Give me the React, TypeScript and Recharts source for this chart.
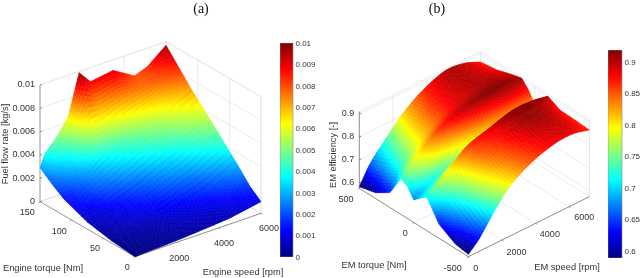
import React from "react";
import { ScatterChart, Scatter, XAxis, YAxis, BarChart, Bar, Cell } from "recharts";

// ---------- data ----------
// Panel (a): fuel flow rate in g/s (x 1e-3 kg/s) over engine speed / torque
const engineSpeeds = [0, 240, 870, 1350, 1860, 2400, 3480, 4500, 5100, 6000];
const engineTorques = [150, 131, 112, 75, 37, 18, 0];
const fuelT150 = [2.9, 4.0, 5.2, 6.5, 9.9, 8.8, 9.1, 8.0, 8.4, 9.7];
const fuelT131 = [2.1, 2.6, 3.7, 5.2, 6.5, 6.6, 7.3, 7.7, 8.0, 8.5];
const fuelT112 = [1.4, 1.6, 2.3, 2.9, 3.5, 4.1, 5.1, 6.0, 6.6, 7.3];
const fuelT75 = [0.6, 0.7, 1.0, 1.3, 1.6, 2.0, 2.9, 3.7, 4.4, 5.2];
const fuelT37 = [0.2, 0.25, 0.4, 0.5, 0.6, 0.8, 1.2, 1.7, 2.2, 3.0];
const fuelT18 = [0.1, 0.12, 0.18, 0.25, 0.32, 0.42, 0.7, 1.0, 1.3, 1.8];
const fuelT0 = [0, 0.02, 0.07, 0.1, 0.15, 0.2, 0.35, 0.5, 0.7, 1.0];

// Panel (b): EM efficiency over EM speed / torque
const emSpeeds = [0, 650, 1650, 2450, 3600, 5050, 6200, 7200];
const emTorques = [500, 350, 220, 120, 60, 0, -60, -120, -230, -380, -500];
const effT500 = [0.582, 0.661, 0.741, 0.8, 0.859, 0.902, 0.895, 0.865];
const effT350 = [0.6, 0.69, 0.77, 0.82, 0.87, 0.9, 0.895, 0.875];
const effT220 = [0.64, 0.72, 0.79, 0.83, 0.875, 0.9, 0.905, 0.895];
const effT120 = [0.73, 0.78, 0.83, 0.87, 0.9, 0.918, 0.918, 0.907];
const effT60 = [0.715, 0.76, 0.8, 0.82, 0.85, 0.875, 0.885, 0.875];
const effT0 = [0.673, 0.7, 0.73, 0.76, 0.79, 0.81, 0.82, 0.83];
const effTm60 = [0.7, 0.72, 0.76, 0.8, 0.83, 0.85, 0.85, 0.85];
const effTm120 = [0.72, 0.77, 0.82, 0.86, 0.885, 0.915, 0.915, 0.9];
const effTm230 = [0.637, 0.71, 0.79, 0.84, 0.87, 0.91, 0.905, 0.873];
const effTm380 = [0.595, 0.66, 0.76, 0.81, 0.855, 0.89, 0.895, 0.87];
const effTm500 = [0.585, 0.63, 0.726, 0.79, 0.844, 0.88, 0.885, 0.866];

const fuelTicks = [0, 2, 4, 6, 8, 10];
const effTicks = [0.6, 0.7, 0.8, 0.9];
const fuelBarTicks = [0, 0.001, 0.002, 0.003, 0.004, 0.005, 0.006, 0.007, 0.008, 0.009, 0.01];
const effBarTicks = [0.6, 0.65, 0.7, 0.75, 0.8, 0.85, 0.9];

// ---------- helpers ----------
const TICK_FONT = "'Liberation Sans', Arial, sans-serif";
const AXIS_COLOR = "#6a6a6a";
const GRID_COLOR = "#e2e2e2";
const clamp = (v: number) => Math.max(0, Math.min(1, v));
const jet = (t: number) => {
  const c = (o: number) => Math.round(255 * clamp(1.5 - Math.abs(4 * t - o)));
  return `rgb(${c(3)},${c(2)},${c(1)})`;
};

type Cfg = {
  ox: number; oy: number; ux: number; uy: number; vx: number; vy: number; zs: number; z0: number;
  sMax: number; tMin: number; tMax: number; cMin: number; cMax: number;
};
const proj = (c: Cfg, s: number, t: number, z: number) => {
  const u = s / c.sMax;
  const v = (t - c.tMin) / (c.tMax - c.tMin);
  return {
    x: (c.ox + c.ux * u + c.vx * v) / 3,
    y: (c.oy + c.uy * u + c.vy * v - (z - c.z0) * c.zs) / 3,
  };
};

// value of one table row at a fractional position inside cell k
function rowValue(row: number[], speeds: number[], k: number, f: number, smooth: boolean) {
  if (!smooth) return row[k] * (1 - f) + row[k + 1] * f;
  const last = speeds.length - 1;
  const slope = (i: number) => {
    const a = Math.max(0, i - 1);
    const b = Math.min(last, i + 1);
    return (row[b] - row[a]) / (speeds[b] - speeds[a]);
  };
  const h = speeds[k + 1] - speeds[k];
  const f2 = f * f;
  const f3 = f2 * f;
  return (
    (2 * f3 - 3 * f2 + 1) * row[k] +
    (f3 - 2 * f2 + f) * h * slope(k) +
    (-2 * f3 + 3 * f2) * row[k + 1] +
    (f3 - f2) * h * slope(k + 1)
  );
}

const SUB = 8;
function buildMesh(c: Cfg, speeds: number[], torques: number[], rows: number[][], smooth: boolean) {
  const pts: { x: number; y: number; z: number }[] = [];
  const nR = (torques.length - 1) * SUB + 1;
  const nC = (speeds.length - 1) * SUB + 1;
  for (let r = 0; r < nR; r++) {
    const r0 = Math.min(Math.floor(r / SUB), torques.length - 2);
    const rf = r / SUB - r0;
    const t = torques[r0] + (torques[r0 + 1] - torques[r0]) * rf;
    for (let k = 0; k < nC; k++) {
      const k0 = Math.min(Math.floor(k / SUB), speeds.length - 2);
      const kf = k / SUB - k0;
      const s = speeds[k0] + (speeds[k0 + 1] - speeds[k0]) * kf;
      const z =
        rowValue(rows[r0], speeds, k0, kf, smooth) * (1 - rf) +
        rowValue(rows[r0 + 1], speeds, k0, kf, smooth) * rf;
      const p = proj(c, s, t, z);
      pts.push({ x: p.x, y: p.y, z });
    }
  }
  return { pts, nR, nC };
}

const None = () => <g />;

const meshLine = (mesh: { pts: { z: number }[]; nR: number; nC: number }, c: Cfg) => (props: any) => {
  const p = props.points as { x: number; y: number }[];
  const out: React.ReactNode[] = [];
  for (let r = 0; r < mesh.nR - 1; r++) {
    for (let k = mesh.nC - 2; k >= 0; k--) {
      const a = r * mesh.nC + k;
      const b = a + 1;
      const d = a + mesh.nC;
      const e = d + 1;
      const z = (mesh.pts[a].z + mesh.pts[b].z + mesh.pts[d].z + mesh.pts[e].z) / 4;
      const col = jet((z - c.cMin) / (c.cMax - c.cMin));
      out.push(
        <polygon
          key={a}
          points={`${p[a].x},${p[a].y} ${p[b].x},${p[b].y} ${p[e].x},${p[e].y} ${p[d].x},${p[d].y}`}
          fill={col}
          stroke={col}
          strokeWidth={0.5}
        />
      );
    }
  }
  return <g>{out}</g>;
};

const pairLine = (color: string, width: number) => (props: any) => {
  const p = props.points as { x: number; y: number }[];
  const out: React.ReactNode[] = [];
  for (let i = 0; i + 1 < p.length; i += 2) {
    out.push(<line key={i} x1={p[i].x} y1={p[i].y} x2={p[i + 1].x} y2={p[i + 1].y} stroke={color} strokeWidth={width} />);
  }
  return <g>{out}</g>;
};

type Lbl = { x: number; y: number; label: string; anchor?: string; size?: number; rot?: boolean; font?: string };
const TextShape = (props: any) => {
  const { cx, cy, payload } = props;
  const l = payload as Lbl;
  return (
    <text
      x={cx}
      y={cy}
      textAnchor={(l.anchor as any) || "middle"}
      dominantBaseline="central"
      fontSize={l.size || 9}
      fontFamily={l.font || TICK_FONT}
      fill={l.font ? "#111" : "#333"}
      transform={l.rot ? `rotate(-90 ${cx} ${cy})` : undefined}
    >
      {l.label}
    </text>
  );
};

function Surface(props: {
  left: number;
  cfg: Cfg;
  speeds: number[];
  torques: number[];
  rows: number[][];
  smooth: boolean;
  zTicks: number[];
  zTop: number;
  zFmt: (z: number) => string;
  speedTicks: number[];
  torqueTicks: number[];
  speedOff: number[][];
  torqueOff: number[][];
  labels: Lbl[];
}) {
  const { left, cfg: c, speeds, torques, rows, smooth, zTicks, zTop, zFmt, speedTicks, torqueTicks, speedOff, torqueOff, labels } = props;
  const mesh = buildMesh(c, speeds, torques, rows, smooth);
  const T0 = c.tMin;
  const T1 = c.tMax;
  const S1 = c.sMax;
  const grid: { x: number; y: number }[] = [];
  const seg = (a: number[], b: number[], arr = grid) => {
    arr.push(proj(c, a[0], a[1], a[2]), proj(c, b[0], b[1], b[2]));
  };
  speedTicks.forEach((s) => {
    seg([s, T1, c.z0], [s, T1, zTop]);
    seg([s, T0, c.z0], [s, T1, c.z0]);
  });
  torqueTicks.forEach((t) => {
    seg([S1, t, c.z0], [S1, t, zTop]);
    seg([0, t, c.z0], [S1, t, c.z0]);
  });
  zTicks.forEach((z) => {
    seg([0, T1, z], [S1, T1, z]);
    seg([S1, T1, z], [S1, T0, z]);
  });
  seg([0, T1, zTop], [S1, T1, zTop]);
  seg([S1, T1, zTop], [S1, T0, zTop]);
  seg([S1, T1, c.z0], [S1, T1, zTop]);
  seg([S1, T0, c.z0], [S1, T0, zTop]);
  seg([0, T1, c.z0], [S1, T1, c.z0]);
  seg([S1, T1, c.z0], [S1, T0, c.z0]);

  const axis: { x: number; y: number }[] = [];
  seg([0, T0, c.z0], [0, T1, c.z0], axis);
  seg([0, T0, c.z0], [S1, T0, c.z0], axis);
  seg([0, T1, c.z0], [0, T1, zTop], axis);
  zTicks.forEach((z) => {
    const p = proj(c, 0, T1, z);
    axis.push(p, { x: p.x + 2, y: p.y - 0.6 });
  });
  speedTicks.forEach((s) => {
    const p = proj(c, s, T0, c.z0);
    axis.push(p, { x: p.x + 1.4, y: p.y + 0.9 });
  });
  torqueTicks.forEach((t) => {
    const p = proj(c, 0, t, c.z0);
    axis.push(p, { x: p.x - 1.6, y: p.y + 1 });
  });

  const tickLabels: Lbl[] = [];
  zTicks.forEach((z) => {
    const p = proj(c, 0, T1, z);
    tickLabels.push({ x: p.x - 5, y: p.y - 0.8, label: zFmt(z), anchor: "end", size: 9 });
  });
  speedTicks.forEach((s, i) => {
    const p = proj(c, s, T0, c.z0);
    tickLabels.push({ x: p.x + speedOff[i][0] / 3, y: p.y + speedOff[i][1] / 3, label: String(s), size: 9 });
  });
  torqueTicks.forEach((t, i) => {
    const p = proj(c, 0, t, c.z0);
    tickLabels.push({ x: p.x + torqueOff[i][0] / 3, y: p.y + torqueOff[i][1] / 3, label: String(t), size: 9 });
  });

  return (
    <div style={{ position: "absolute", left, top: 0 }}>
      <ScatterChart width={320} height={278} margin={{ top: 0, right: 0, bottom: 0, left: 0 }}>
        <XAxis type="number" dataKey="x" domain={[0, 320]} hide allowDataOverflow />
        <YAxis type="number" dataKey="y" domain={[0, 278]} reversed hide allowDataOverflow />
        <Scatter data={grid} shape={None} line={pairLine(GRID_COLOR, 0.7)} isAnimationActive={false} />
        <Scatter data={axis} shape={None} line={pairLine(AXIS_COLOR, 0.7)} isAnimationActive={false} />
        <Scatter data={mesh.pts} shape={None} line={meshLine(mesh, c)} isAnimationActive={false} />
        <Scatter data={[...tickLabels, ...labels]} shape={TextShape} isAnimationActive={false} />
      </ScatterChart>
    </div>
  );
}

function ColorBar(props: { left: number; top: number; h: number; barW: number; domain: number[]; ticks: number[]; id: string }) {
  const { left, top, h, barW, domain, ticks, id } = props;
  const stops = Array.from({ length: 33 }, (_, i) => i / 32);
  return (
    <div style={{ position: "absolute", left, top: top - 6 }}>
      <BarChart width={barW + 24} height={h + 12} data={[{ name: "c", value: domain[1] }]} margin={{ top: 6, right: 0, bottom: 6, left: 0 }} barCategoryGap={0}>
        <defs>
          <linearGradient id={id} x1="0" y1="1" x2="0" y2="0">
            {stops.map((s) => (
              <stop key={s} offset={s} stopColor={jet(s)} />
            ))}
          </linearGradient>
        </defs>
        <XAxis dataKey="name" hide />
        <YAxis
          orientation="right"
          width={24}
          type="number"
          domain={domain}
          ticks={ticks}
          allowDataOverflow
          interval={0}
          axisLine={false}
          tickLine={false}
          tickSize={0}
          tickMargin={2.5}
          tickFormatter={(v: number) => String(v)}
          tick={{ fontSize: 8, fontFamily: TICK_FONT, fill: "#333", textAnchor: "start" }}
        />
        <Bar dataKey="value" isAnimationActive={false} stroke="#8a8a8a" strokeWidth={0.6}>
          <Cell fill={`url(#${id})`} />
        </Bar>
      </BarChart>
    </div>
  );
}

const cfgA: Cfg = { ox: 405, oy: 770, ux: 378, uy: -130, vx: -285, vy: -165, zs: 35, z0: 0, sMax: 6000, tMin: 0, tMax: 150, cMin: 0, cMax: 10 };
const cfgB: Cfg = { ox: 445, oy: 770, ux: 363, uy: -180, vx: -327, vy: -205, zs: 687, z0: 0.575, sMax: 7200, tMin: -500, tMax: 500, cMin: 0.589, cMax: 0.919 };

const labelsA: Lbl[] = [
  { x: 201, y: 8, label: "(a)", size: 14, font: "'Liberation Serif', serif" },
  { x: 43, y: 268, label: "Engine torque [Nm]", size: 9.3 },
  { x: 243, y: 272, label: "Engine speed [rpm]", size: 9.3 },
  { x: 5, y: 144, label: "Fuel flow rate [kg/s]", size: 9.3, rot: true },
];
const labelsB: Lbl[] = [
  { x: 117, y: 8, label: "(b)", size: 14, font: "'Liberation Serif', serif" },
  { x: 54, y: 265, label: "EM torque [Nm]", size: 9.3 },
  { x: 247, y: 267, label: "EM speed [rpm]", size: 9.3 },
  { x: 13, y: 155, label: "EM efficiency [-]", size: 9.3, rot: true },
];

export default function App() {
  return (
    <div style={{ position: "absolute", left: 0, top: 0, width: 640, height: 278, background: "#fff", overflow: "hidden", filter: "blur(0.35px)" }}>
      <Surface
        left={0}
        cfg={cfgA}
        speeds={engineSpeeds}
        torques={engineTorques}
        rows={[fuelT150, fuelT131, fuelT112, fuelT75, fuelT37, fuelT18, fuelT0]}
        smooth={false}
        zTicks={fuelTicks}
        zTop={10}
        zFmt={(z) => String(z / 1000)}
        speedTicks={[2000, 4000, 6000]}
        torqueTicks={[0, 50, 100, 150]}
        speedOff={[[7, 48], [15, 47], [24, 45]]}
        torqueOff={[[-23, 30], [-25, 30], [-37, 32], [-38, 32]]}
        labels={labelsA}
      />
      <Surface
        left={320}
        cfg={cfgB}
        speeds={emSpeeds}
        torques={emTorques}
        rows={[effT500, effT350, effT220, effT120, effT60, effT0, effTm60, effTm120, effTm230, effTm380, effTm500]}
        smooth={true}
        zTicks={effTicks}
        zTop={0.91}
        zFmt={(z) => String(z)}
        speedTicks={[0, 2000, 4000, 6000]}
        torqueTicks={[-500, 0, 500]}
        speedOff={[[22, 35], [44, 35], [43, 33], [45, 30]]}
        torqueOff={[[-47, 33], [-26, 32], [-40, 32]]}
        labels={labelsB}
      />
      <ColorBar left={279.5} top={43} h={214} barW={13} domain={[0, 0.01]} ticks={fuelBarTicks} id="jetA" />
      <ColorBar left={607.5} top={50} h={208} barW={14} domain={[0.589, 0.919]} ticks={effBarTicks} id="jetB" />
    </div>
  );
}
